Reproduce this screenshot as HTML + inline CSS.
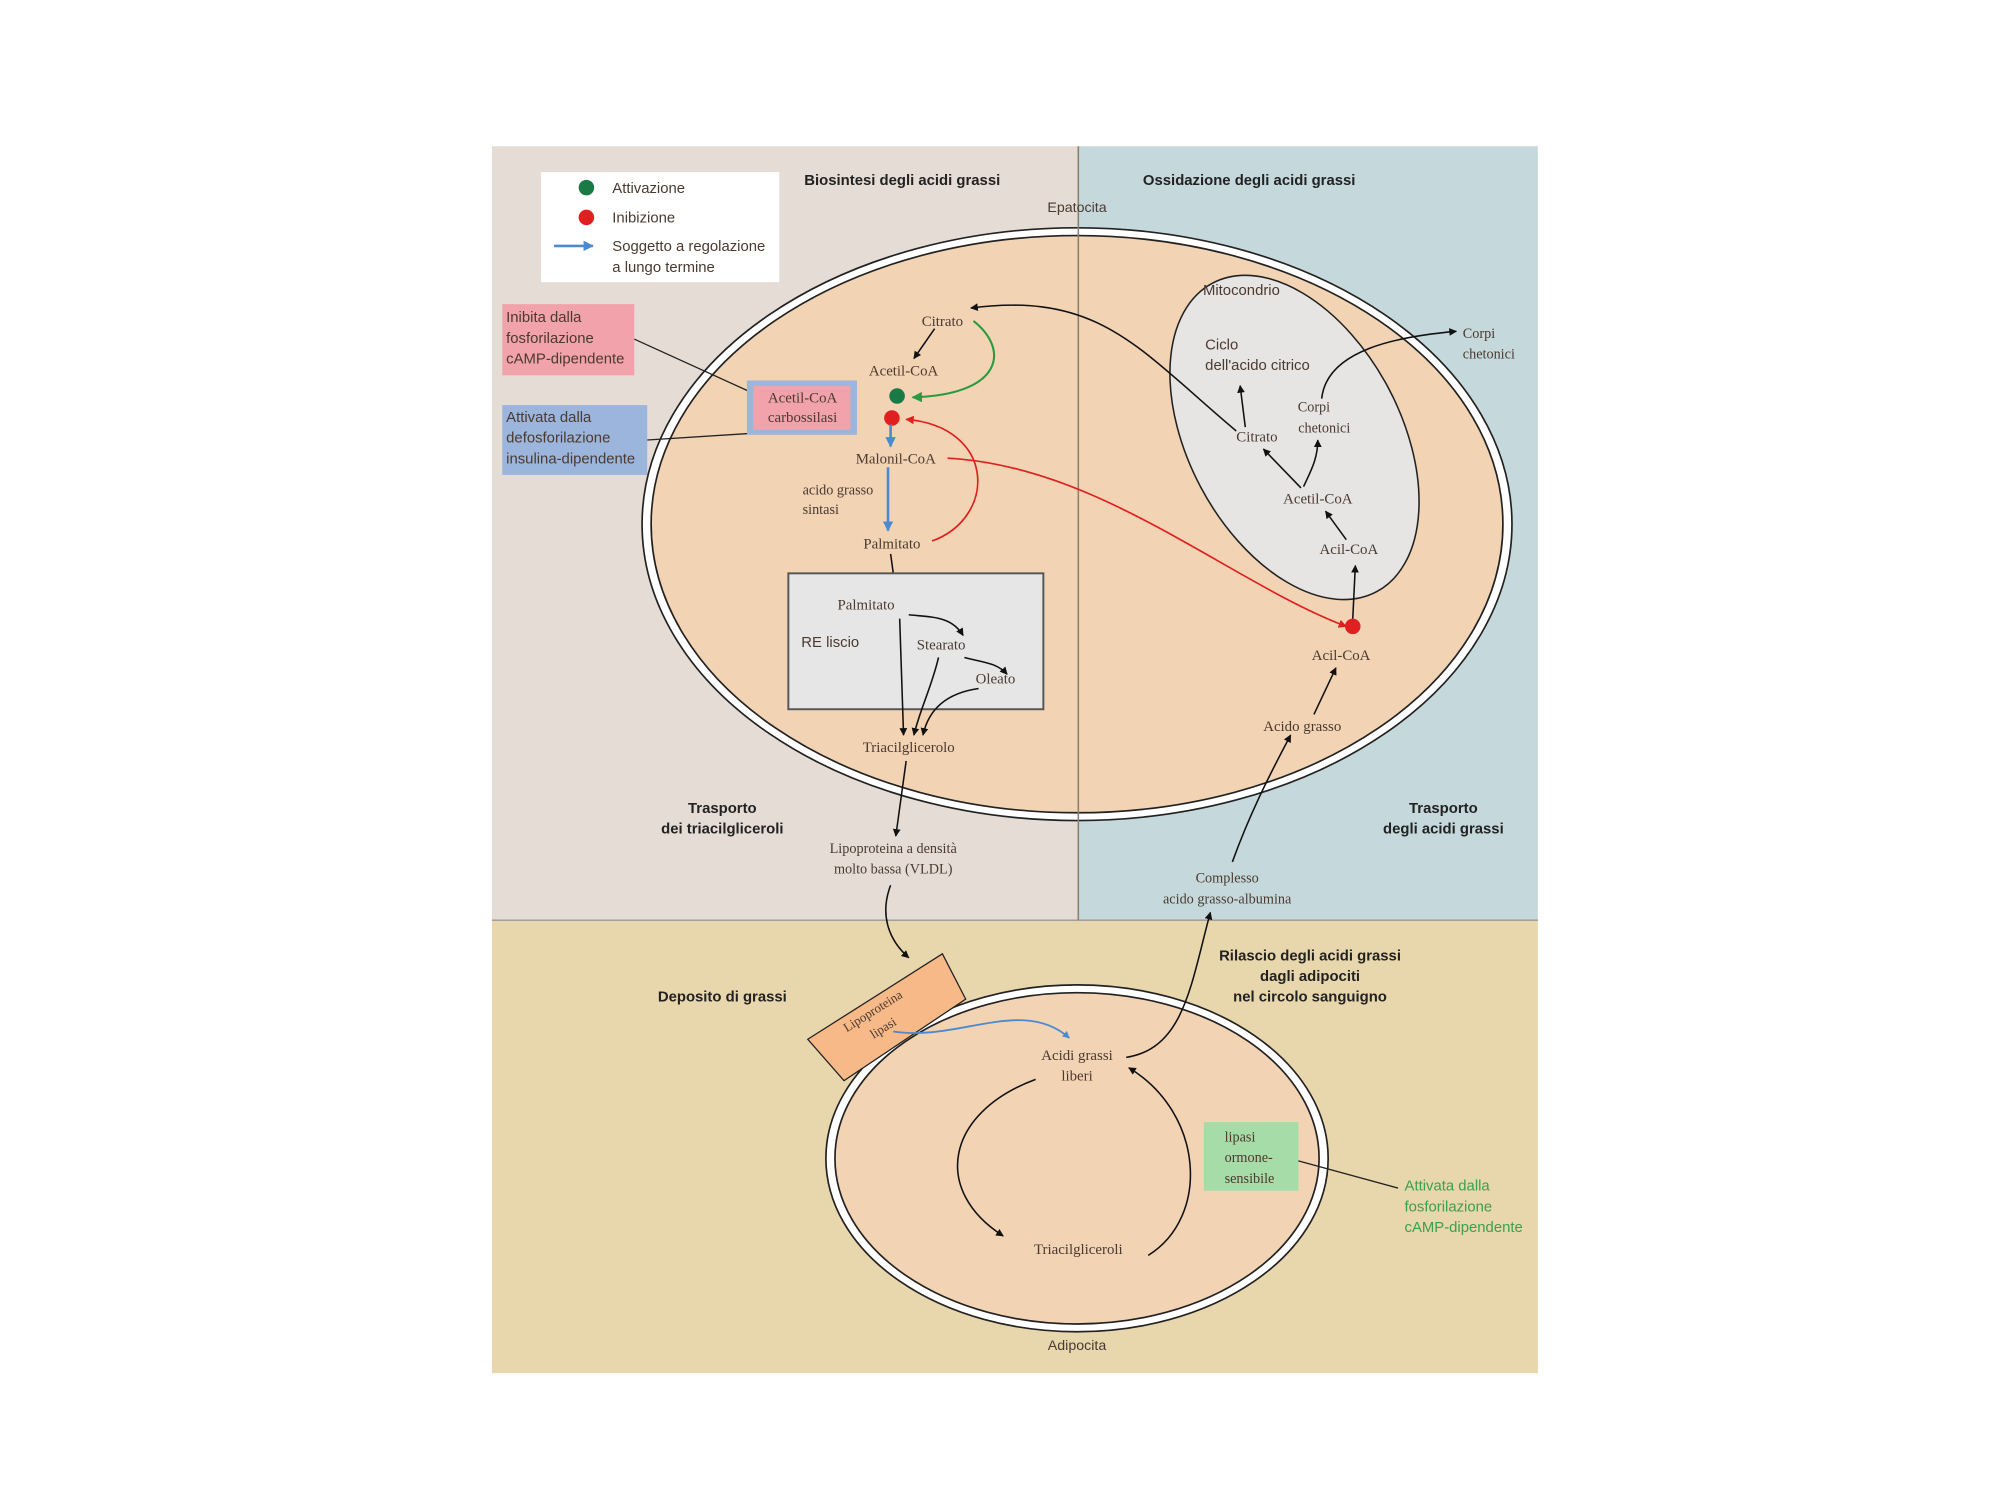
<!DOCTYPE html>
<html><head><meta charset="utf-8"><style>
html,body{margin:0;padding:0;background:#fff;}
svg{display:block;}
text{font-family:"Liberation Serif",serif;fill:#4a3a30;}
.s{font-family:"Liberation Sans",sans-serif;}
.b{font-family:"Liberation Sans",sans-serif;font-weight:bold;fill:#222;font-size:11.5px;}
</style></head><body>
<svg width="2000" height="1500" viewBox="0 0 1545 1159" preserveAspectRatio="none" xmlns="http://www.w3.org/2000/svg">
<defs>
<marker id="a" viewBox="0 0 10 10" refX="9" refY="5" markerWidth="5" markerHeight="5" orient="auto"><path d="M0,0 L10,5 L0,10 z" fill="#111"/></marker>
<marker id="ar" viewBox="0 0 10 10" refX="9" refY="5" markerWidth="5" markerHeight="5" orient="auto"><path d="M0,0 L10,5 L0,10 z" fill="#e02020"/></marker>
<marker id="ag" viewBox="0 0 10 10" refX="9" refY="5" markerWidth="5" markerHeight="5" orient="auto"><path d="M0,0 L10,5 L0,10 z" fill="#2a9a40"/></marker>
<marker id="ab" viewBox="0 0 10 10" refX="9" refY="5" markerWidth="4" markerHeight="4" orient="auto"><path d="M0,0 L10,5 L0,10 z" fill="#4a8ad0"/></marker>
</defs>
<rect x="380" y="113" width="453" height="598" fill="#e5ddd5"/>
<rect x="833" y="113" width="355" height="598" fill="#c5d9dc"/>
<rect x="380" y="711" width="808" height="350" fill="#e8d6ad"/>
<line x1="380" y1="711" x2="1188" y2="711" stroke="#999" stroke-width="1"/>

<!-- hepatocyte -->
<ellipse cx="832" cy="405" rx="336" ry="229" fill="#fff" stroke="#222" stroke-width="1.3"/>
<ellipse cx="832" cy="405" rx="329" ry="223" fill="#f2d3b3" stroke="#222" stroke-width="1.3"/>
<line x1="833" y1="113" x2="833" y2="711" stroke="#8a8070" stroke-width="1.2"/>
<!-- mitochondrion -->
<ellipse cx="1000" cy="338" rx="82" ry="135" transform="rotate(-28 1000 338)" fill="#e6e5e3" stroke="#222" stroke-width="1.2"/>

<!-- legend -->
<rect x="418" y="133" width="184" height="85" fill="#fff"/>
<circle cx="453" cy="145" r="6" fill="#1a7a45"/>
<circle cx="453" cy="168" r="6" fill="#e02020"/>
<line x1="428" y1="190" x2="458" y2="190" stroke="#4a8ad0" stroke-width="2" marker-end="url(#ab)"/>
<text class="s" x="473" y="149" font-size="11.5">Attivazione</text>
<text class="s" x="473" y="172" font-size="11.5">Inibizione</text>
<text class="s" x="473" y="194" font-size="11.5">Soggetto a regolazione</text>
<text class="s" x="473" y="210" font-size="11.5">a lungo termine</text>

<text class="b" x="697" y="143" text-anchor="middle">Biosintesi degli acidi grassi</text>
<text class="b" x="965" y="143" text-anchor="middle">Ossidazione degli acidi grassi</text>
<text class="s" x="832" y="164" font-size="11" text-anchor="middle">Epatocita</text>

<!-- side boxes -->
<rect x="388" y="235" width="102" height="55" fill="#f2a2aa"/>
<text class="s" x="391" y="249" font-size="11.5">Inibita dalla</text>
<text class="s" x="391" y="265" font-size="11.5">fosforilazione</text>
<text class="s" x="391" y="281" font-size="11.5">cAMP-dipendente</text>
<rect x="388" y="313" width="112" height="54" fill="#9bb5dc"/>
<text class="s" x="391" y="326" font-size="11.5">Attivata dalla</text>
<text class="s" x="391" y="342" font-size="11.5">defosforilazione</text>
<text class="s" x="391" y="358" font-size="11.5">insulina-dipendente</text>
<line x1="490" y1="262" x2="580" y2="303" stroke="#222" stroke-width="1"/>
<line x1="500" y1="340" x2="578" y2="335" stroke="#222" stroke-width="1"/>
<rect x="577" y="294" width="85" height="42" fill="#9bb5dc"/>
<rect x="582" y="298" width="75" height="34" fill="#f2a2aa"/>
<text x="620" y="311" font-size="11.5" text-anchor="middle" fill="#222">Acetil-CoA</text>
<text x="620" y="326" font-size="11.5" text-anchor="middle" fill="#222">carbossilasi</text>

<!-- synthesis pathway -->
<text x="728" y="252" font-size="11.5" text-anchor="middle">Citrato</text>
<text x="698" y="290" font-size="11.5" text-anchor="middle">Acetil-CoA</text>
<text x="692" y="358" font-size="11.5" text-anchor="middle">Malonil-CoA</text>
<text x="620" y="382" font-size="11">acido grasso</text>
<text x="620" y="397" font-size="11">sintasi</text>
<text x="689" y="424" font-size="11.5" text-anchor="middle">Palmitato</text>
<path d="M722,254 L706,277" stroke="#111" stroke-width="1.2" fill="none" marker-end="url(#a)"/>
<path d="M752,248 C780,270 775,305 705,307" stroke="#2a9a40" stroke-width="1.6" fill="none" marker-end="url(#ag)"/>
<circle cx="693" cy="306" r="6" fill="#1a7a45"/>
<circle cx="689" cy="323" r="6" fill="#e02020"/>
<line x1="688" y1="328" x2="688" y2="345" stroke="#4a8ad0" stroke-width="2" marker-end="url(#ab)"/>
<line x1="686" y1="361" x2="686" y2="410" stroke="#4a8ad0" stroke-width="2" marker-end="url(#ab)"/>
<path d="M720,418 C770,400 770,330 700,324" stroke="#e02020" stroke-width="1.3" fill="none" marker-end="url(#ar)"/>
<path d="M732,354 C850,360 950,450 1040,484" stroke="#e02020" stroke-width="1.3" fill="none" marker-end="url(#ar)"/>
<path d="M688,428 L692,457" stroke="#111" stroke-width="1.2" fill="none" marker-end="url(#a)"/>

<!-- RE -->
<rect x="609" y="443" width="197" height="105" fill="#e6e6e6" stroke="#555" stroke-width="1.5"/>
<text x="669" y="471" font-size="11.5" text-anchor="middle">Palmitato</text>
<text class="s" x="619" y="500" font-size="11.5">RE liscio</text>
<text x="727" y="502" font-size="11.5" text-anchor="middle">Stearato</text>
<text x="769" y="528" font-size="11.5" text-anchor="middle">Oleato</text>
<path d="M702,475 C720,477 735,476 744,491" stroke="#111" stroke-width="1.2" fill="none" marker-end="url(#a)"/>
<path d="M745,508 C760,512 770,512 778,521" stroke="#111" stroke-width="1.2" fill="none" marker-end="url(#a)"/>
<path d="M695,478 L698,568" stroke="#111" stroke-width="1.2" fill="none" marker-end="url(#a)"/>
<path d="M725,508 C720,530 710,550 706,568" stroke="#111" stroke-width="1.2" fill="none" marker-end="url(#a)"/>
<path d="M756,532 C735,535 718,545 713,568" stroke="#111" stroke-width="1.2" fill="none" marker-end="url(#a)"/>
<text x="702" y="581" font-size="11.5" text-anchor="middle">Triacilglicerolo</text>
<path d="M700,588 L692,646" stroke="#111" stroke-width="1.2" fill="none" marker-end="url(#a)"/>

<!-- mitochondrion content -->
<text class="s" x="959" y="228" font-size="11.5" text-anchor="middle">Mitocondrio</text>
<text class="s" x="931" y="270" font-size="11.5">Ciclo</text>
<text class="s" x="931" y="286" font-size="11.5">dell'acido citrico</text>
<text x="1015" y="318" font-size="11" text-anchor="middle">Corpi</text>
<text x="1023" y="334" font-size="11" text-anchor="middle">chetonici</text>
<text x="971" y="341" font-size="11.5" text-anchor="middle">Citrato</text>
<text x="1018" y="389" font-size="11.5" text-anchor="middle">Acetil-CoA</text>
<text x="1042" y="428" font-size="11.5" text-anchor="middle">Acil-CoA</text>
<path d="M1040,417 L1024,395" stroke="#111" stroke-width="1.2" fill="none" marker-end="url(#a)"/>
<path d="M1005,377 L976,347" stroke="#111" stroke-width="1.2" fill="none" marker-end="url(#a)"/>
<path d="M1007,376 C1012,365 1018,355 1018,340" stroke="#111" stroke-width="1.2" fill="none" marker-end="url(#a)"/>
<path d="M962,330 L958,298" stroke="#111" stroke-width="1.2" fill="none" marker-end="url(#a)"/>
<path d="M955,333 C880,270 850,225 750,238" stroke="#111" stroke-width="1.2" fill="none" marker-end="url(#a)"/>
<path d="M1021,308 C1025,270 1080,260 1125,256" stroke="#111" stroke-width="1.2" fill="none" marker-end="url(#a)"/>
<text x="1130" y="261" font-size="11">Corpi</text>
<text x="1130" y="277" font-size="11">chetonici</text>

<circle cx="1045" cy="484" r="6" fill="#e02020"/>
<path d="M1045,478 L1047,437" stroke="#111" stroke-width="1.2" fill="none" marker-end="url(#a)"/>
<text x="1036" y="510" font-size="11.5" text-anchor="middle">Acil-CoA</text>
<path d="M1015,552 L1032,516" stroke="#111" stroke-width="1.2" fill="none" marker-end="url(#a)"/>
<text x="1006" y="565" font-size="11.5" text-anchor="middle">Acido grasso</text>

<text class="b" x="558" y="628" text-anchor="middle">Trasporto</text>
<text class="b" x="558" y="644" text-anchor="middle">dei triacilgliceroli</text>
<text class="b" x="1115" y="628" text-anchor="middle">Trasporto</text>
<text class="b" x="1115" y="644" text-anchor="middle">degli acidi grassi</text>
<text x="690" y="659" font-size="11" text-anchor="middle">Lipoproteina a densità</text>
<text x="690" y="675" font-size="11" text-anchor="middle">molto bassa (VLDL)</text>
<text x="948" y="682" font-size="11" text-anchor="middle">Complesso</text>
<text x="948" y="698" font-size="11" text-anchor="middle">acido grasso-albumina</text>
<path d="M952,666 C965,630 980,600 997,568" stroke="#111" stroke-width="1.2" fill="none" marker-end="url(#a)"/>
<path d="M688,684 C680,705 685,725 702,740" stroke="#111" stroke-width="1.2" fill="none" marker-end="url(#a)"/>

<!-- adipocyte -->
<text class="b" x="558" y="774" text-anchor="middle">Deposito di grassi</text>
<text class="b" x="1012" y="742" text-anchor="middle">Rilascio degli acidi grassi</text>
<text class="b" x="1012" y="758" text-anchor="middle">dagli adipociti</text>
<text class="b" x="1012" y="774" text-anchor="middle">nel circolo sanguigno</text>
<ellipse cx="832" cy="895" rx="194" ry="134" fill="#fff" stroke="#222" stroke-width="1.3"/>
<ellipse cx="832" cy="895" rx="187" ry="128" fill="#f2d3b3" stroke="#222" stroke-width="1.3"/>
<polygon points="624,803 728,737 746,772 652,835" fill="#f7b987" stroke="#222" stroke-width="1"/>
<text x="676" y="784" font-size="10" text-anchor="middle" transform="rotate(-32 676 784)">Lipoproteina</text>
<text x="684" y="797" font-size="10" text-anchor="middle" transform="rotate(-32 684 797)">lipasi</text>
<path d="M690,797 C740,805 790,770 826,802" stroke="#4a8ad0" stroke-width="1.4" fill="none" marker-end="url(#ab)"/>
<text x="832" y="819" font-size="11.5" text-anchor="middle">Acidi grassi</text>
<text x="832" y="835" font-size="11.5" text-anchor="middle">liberi</text>
<path d="M870,817 C915,810 920,760 935,705" stroke="#111" stroke-width="1.2" fill="none" marker-end="url(#a)"/>
<path d="M800,834 C730,860 720,920 775,955" stroke="#111" stroke-width="1.2" fill="none" marker-end="url(#a)"/>
<path d="M887,970 C935,940 930,860 872,825" stroke="#111" stroke-width="1.2" fill="none" marker-end="url(#a)"/>
<text x="833" y="969" font-size="11.5" text-anchor="middle">Triacilgliceroli</text>
<rect x="930" y="867" width="73" height="53" fill="#a6dca8"/>
<text x="946" y="882" font-size="11">lipasi</text>
<text x="946" y="898" font-size="11">ormone-</text>
<text x="946" y="914" font-size="11">sensibile</text>
<line x1="1003" y1="897" x2="1080" y2="918" stroke="#222" stroke-width="1"/>
<text class="s" x="1085" y="920" font-size="11.5" fill="#3aa050" style="fill:#3aa050">Attivata dalla</text>
<text class="s" x="1085" y="936" font-size="11.5" style="fill:#3aa050">fosforilazione</text>
<text class="s" x="1085" y="952" font-size="11.5" style="fill:#3aa050">cAMP-dipendente</text>
<text class="s" x="832" y="1043" font-size="11" text-anchor="middle">Adipocita</text>
</svg>
</body></html>
